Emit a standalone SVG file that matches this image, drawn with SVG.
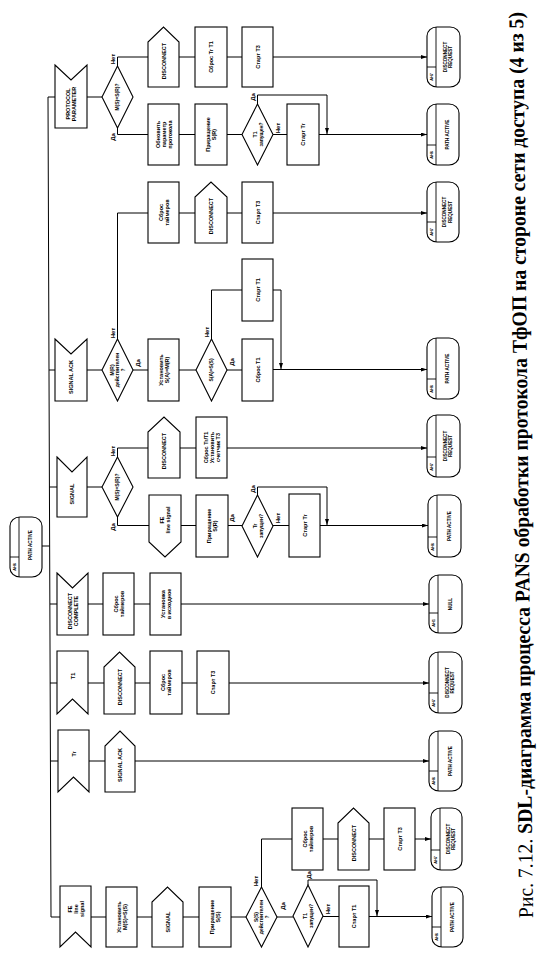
<svg xmlns="http://www.w3.org/2000/svg" width="560" height="961" viewBox="0 0 560 961">
<style>
.sh{fill:#fff;stroke:#000;stroke-width:1.1}
.ln{fill:none;stroke:#000;stroke-width:1}
.ar{fill:none;stroke:#000;stroke-width:1;marker-end:url(#ah)}
.dv{stroke:#000;stroke-width:0.9}
text{font-family:"Liberation Sans",Arial,sans-serif;font-weight:bold;fill:#000;text-anchor:middle}
.t{font-size:5.5px}
.td{font-size:5px}
.ts{font-size:4.6px}
.tn{font-size:3.8px}
.tl{font-size:6px}
.cap{font-family:"Liberation Serif","Times New Roman",serif;font-weight:normal;font-size:21px;text-anchor:start}
.capb{font-weight:bold}
</style>
<defs>
<marker id="ah" markerWidth="6" markerHeight="4" refX="6" refY="2" orient="auto" markerUnits="userSpaceOnUse"><path d="M0,0 L6,2 L0,4 Z" fill="#000"/></marker>
</defs>
<rect width="560" height="961" fill="#fff"/>

<g id="connectors">
<path class="ln" d="M55,97 L48,97 L51,917 L60,917"/>
<path class="ln" d="M42,546 L49.5,546"/>
<path class="ln" d="M87,97 L102,97"/>
<path class="ln" d="M117.5,66 L117.5,57 L148,57"/>
<path class="ln" d="M179,57 L195,57"/>
<path class="ln" d="M227,57 L242,57"/>
<path class="ar" d="M273,57 L427,57"/>
<path class="ln" d="M117.5,128 L117.5,134.5 L148,134.5"/>
<path class="ln" d="M179,134.5 L195,134.5"/>
<path class="ln" d="M227,134.5 L242,134.5"/>
<path class="ar" d="M257.5,104 L257.5,95 L327,95 L327,134"/>
<path class="ln" d="M273,134.5 L287,134.5"/>
<path class="ar" d="M319,134.5 L427,134.5"/>
<path class="ln" d="M49,370 L55,370"/>
<path class="ln" d="M87,370 L102,370"/>
<path class="ln" d="M117.5,339 L117.5,213 L148,213"/>
<path class="ln" d="M179,213 L195,213"/>
<path class="ln" d="M227,213 L242,213"/>
<path class="ar" d="M273,213 L427,213"/>
<path class="ln" d="M133,370 L148,370"/>
<path class="ln" d="M179,370 L196,370"/>
<path class="ln" d="M211.5,339 L211.5,290 L242,290"/>
<path class="ln" d="M227,370 L242,370"/>
<path class="ar" d="M273,290 L281,290 L281,369"/>
<path class="ar" d="M273,369.5 L427,369.5"/>
<path class="ln" d="M49.4,487 L57,487"/>
<path class="ln" d="M87,487 L102,487"/>
<path class="ln" d="M117.5,457 L117.5,448 L148,448"/>
<path class="ln" d="M180,448 L196,448"/>
<path class="ar" d="M227,448 L427,448"/>
<path class="ln" d="M117.5,517 L117.5,525.5 L149,525.5"/>
<path class="ln" d="M181,525.5 L196,525.5"/>
<path class="ln" d="M228,525.5 L242,525.5"/>
<path class="ar" d="M257.5,495 L257.5,487 L327,487 L327,525"/>
<path class="ln" d="M273,525.5 L289,525.5"/>
<path class="ar" d="M320,525.5 L428,525.5"/>
<path class="ln" d="M50,604 L57,604"/>
<path class="ln" d="M88,604 L103,604"/>
<path class="ln" d="M134,604 L150,604"/>
<path class="ar" d="M181,604 L429,604"/>
<path class="ln" d="M50,683 L57,683"/>
<path class="ln" d="M88,683 L104,683"/>
<path class="ln" d="M135,683 L150,683"/>
<path class="ln" d="M182,683 L197,683"/>
<path class="ar" d="M229,683 L429,683"/>
<path class="ln" d="M50.4,761 L58,761"/>
<path class="ln" d="M89,761 L105,761"/>
<path class="ar" d="M135,761 L429,761"/>
<path class="ln" d="M91,917 L106,917"/>
<path class="ln" d="M137,917 L152,917"/>
<path class="ln" d="M183,917 L199,917"/>
<path class="ln" d="M231,917 L246,917"/>
<path class="ln" d="M261.5,887 L261.5,839 L292,839"/>
<path class="ln" d="M323,839 L338,839"/>
<path class="ln" d="M369,839 L384,839"/>
<path class="ar" d="M415,839 L431,839"/>
<path class="ln" d="M277,917 L293,917"/>
<path class="ar" d="M308,885 L308,880 L377,880 L377,916"/>
<path class="ln" d="M323,916.5 L339,916.5"/>
<path class="ar" d="M369,916.5 L432,916.5"/>
</g>

<g id="labels">
<text class="tl" transform="translate(113,59) rotate(-90)"><tspan x="0" y="2">Нет</tspan></text>
<text class="tl" transform="translate(113,137) rotate(-90)"><tspan x="0" y="2">Да</tspan></text>
<text class="tl" transform="translate(253,97) rotate(-90)"><tspan x="0" y="2">Да</tspan></text>
<text class="tl" transform="translate(278,128) rotate(-90)"><tspan x="0" y="2">Нет</tspan></text>
<text class="tl" transform="translate(113,333) rotate(-90)"><tspan x="0" y="2">Нет</tspan></text>
<text class="tl" transform="translate(138,363) rotate(-90)"><tspan x="0" y="2">Да</tspan></text>
<text class="tl" transform="translate(207,332) rotate(-90)"><tspan x="0" y="2">Нет</tspan></text>
<text class="tl" transform="translate(232,362) rotate(-90)"><tspan x="0" y="2">Да</tspan></text>
<text class="tl" transform="translate(113,451) rotate(-90)"><tspan x="0" y="2">Нет</tspan></text>
<text class="tl" transform="translate(113,527) rotate(-90)"><tspan x="0" y="2">Да</tspan></text>
<text class="tl" transform="translate(232,518) rotate(-90)"><tspan x="0" y="2">Да</tspan></text>
<text class="tl" transform="translate(253,489) rotate(-90)"><tspan x="0" y="2">Да</tspan></text>
<text class="tl" transform="translate(278,518) rotate(-90)"><tspan x="0" y="2">Нет</tspan></text>
<text class="tl" transform="translate(256,881) rotate(-90)"><tspan x="0" y="2">Нет</tspan></text>
<text class="tl" transform="translate(283,906) rotate(-90)"><tspan x="0" y="2">Да</tspan></text>
<text class="tl" transform="translate(309,875) rotate(-90)"><tspan x="0" y="2">Да</tspan></text>
<text class="tl" transform="translate(328,909) rotate(-90)"><tspan x="0" y="2">Нет</tspan></text>
</g>

<g id="nodes">
<g id="start">
<rect class="sh" x="10" y="517" width="32" height="60" rx="10" ry="9"/>
<line class="dv" x1="19" y1="517" x2="19" y2="577"/><line class="dv" x1="10" y1="557" x2="19" y2="557"/>
<text class="tn" transform="translate(14.5,567) rotate(-90)"><tspan x="0" y="1.3">AH6</tspan></text>
<text class="ts" transform="translate(30.5,545) rotate(-90)"><tspan x="0" y="1.6">PATH ACTIVE</tspan></text>
</g>

<g id="in_pp">
<path class="sh" d="M55,65 L71,80 L87,65 L87,128 L55,128 Z"/>
<text class="t" transform="translate(71,104) rotate(-90)"><tspan x="0" y="-1">PROTOCOL</tspan><tspan x="0" y="5">PARAMETER</tspan></text>
</g>
<g id="d7a">
<polygon class="sh" points="117.5,66 133,97 117.5,128 102,97"/>
<text class="td" transform="translate(117.5,97) rotate(-90)"><tspan x="0" y="1.8">M(S)=S(R)?</tspan></text>
</g>
<g id="o7disc">
<path class="sh" d="M148,87 L148,42 L163.5,27 L179,42 L179,87 Z"/>
<text class="t" transform="translate(163.5,61) rotate(-90)"><tspan x="0" y="2">DISCONNECT</tspan></text>
</g>
<g id="b7reset">
<rect class="sh" x="195" y="27" width="32" height="60"/>
<text class="t" transform="translate(211,57) rotate(-90)"><tspan x="0" y="2">Сброс Tr T1</tspan></text>
</g>
<g id="b7t3">
<rect class="sh" x="242" y="27" width="31" height="60"/>
<text class="t" transform="translate(257.5,57) rotate(-90)"><tspan x="0" y="2">Старт T3</tspan></text>
</g>
<g id="s7dr">
<rect class="sh" x="427" y="27" width="33" height="60" rx="10" ry="9"/>
<line class="dv" x1="436" y1="27" x2="436" y2="87"/><line class="dv" x1="427" y1="67" x2="436" y2="67"/>
<text class="tn" transform="translate(431.5,77) rotate(-90)"><tspan x="0" y="1.3">AH7</tspan></text>
<text class="ts" transform="translate(448,57) rotate(-90)"><tspan x="0" y="-1.2">DISCONNECT</tspan><tspan x="0" y="4.4">REQUEST</tspan></text>
</g>
<g id="b7upd">
<rect class="sh" x="148" y="104" width="31" height="61"/>
<text class="t" transform="translate(163.5,134.5) rotate(-90)"><tspan x="0" y="-4">Обновить</tspan><tspan x="0" y="2">параметр</tspan><tspan x="0" y="8">протокола</tspan></text>
</g>
<g id="b7inc">
<rect class="sh" x="195" y="104" width="32" height="61"/>
<text class="t" transform="translate(211,134.5) rotate(-90)"><tspan x="0" y="-1">Приращение</tspan><tspan x="0" y="5">S(R)</tspan></text>
</g>
<g id="d7b">
<polygon class="sh" points="257.5,104 273,134.5 257.5,165 242,134.5"/>
<text class="td" transform="translate(257.5,134.5) rotate(-90)"><tspan x="0" y="-1">T1</tspan><tspan x="0" y="5">запущен?</tspan></text>
</g>
<g id="b7tr">
<rect class="sh" x="287" y="104" width="32" height="61"/>
<text class="t" transform="translate(303,134.5) rotate(-90)"><tspan x="0" y="2">Старт Tr</tspan></text>
</g>
<g id="s7pa">
<rect class="sh" x="427" y="104" width="32" height="61" rx="10" ry="9"/>
<line class="dv" x1="436" y1="104" x2="436" y2="165"/><line class="dv" x1="427" y1="145" x2="436" y2="145"/>
<text class="tn" transform="translate(431.5,155) rotate(-90)"><tspan x="0" y="1.3">AH6</tspan></text>
<text class="ts" transform="translate(447.5,134.5) rotate(-90)"><tspan x="0" y="1.6">PATH ACTIVE</tspan></text>
</g>

<g id="in_sack">
<path class="sh" d="M55,339 L71,354 L87,339 L87,401 L55,401 Z"/>
<text class="t" transform="translate(71,377) rotate(-90)"><tspan x="0" y="2">SIGNAL ACK</tspan></text>
</g>
<g id="d6a">
<polygon class="sh" points="117.5,339 133,370 117.5,401 102,370"/>
<text class="td" transform="translate(117.5,370) rotate(-90)"><tspan x="0" y="-3.8">M(R)</tspan><tspan x="0" y="1.8">действителен</tspan><tspan x="0" y="7.4">?</tspan></text>
</g>
<g id="b6reset">
<rect class="sh" x="148" y="182" width="31" height="61"/>
<text class="t" transform="translate(163.5,212.5) rotate(-90)"><tspan x="0" y="-1">Сброс</tspan><tspan x="0" y="5">таймеров</tspan></text>
</g>
<g id="o6disc">
<path class="sh" d="M195,243 L195,197 L211,182 L227,197 L227,243 Z"/>
<text class="t" transform="translate(211,216) rotate(-90)"><tspan x="0" y="2">DISCONNECT</tspan></text>
</g>
<g id="b6t3">
<rect class="sh" x="242" y="182" width="31" height="61"/>
<text class="t" transform="translate(257.5,212.5) rotate(-90)"><tspan x="0" y="2">Старт T3</tspan></text>
</g>
<g id="s6dr">
<rect class="sh" x="427" y="182" width="32" height="60" rx="10" ry="9"/>
<line class="dv" x1="436" y1="182" x2="436" y2="242"/><line class="dv" x1="427" y1="222" x2="436" y2="222"/>
<text class="tn" transform="translate(431.5,232) rotate(-90)"><tspan x="0" y="1.3">AH7</tspan></text>
<text class="ts" transform="translate(447.5,212) rotate(-90)"><tspan x="0" y="-1.2">DISCONNECT</tspan><tspan x="0" y="4.4">REQUEST</tspan></text>
</g>
<g id="b6set">
<rect class="sh" x="148" y="339" width="31" height="62"/>
<text class="t" transform="translate(163.5,370) rotate(-90)"><tspan x="0" y="-1">Установить</tspan><tspan x="0" y="5">S(A)=M(R)</tspan></text>
</g>
<g id="d6b">
<polygon class="sh" points="211.5,339 227,370 211.5,401 196,370"/>
<text class="td" transform="translate(211.5,370) rotate(-90)"><tspan x="0" y="1.8">S(A)=S(S)</tspan></text>
</g>
<g id="b6t1start">
<rect class="sh" x="242" y="259" width="31" height="62"/>
<text class="t" transform="translate(257.5,290) rotate(-90)"><tspan x="0" y="2">Старт T1</tspan></text>
</g>
<g id="b6t1reset">
<rect class="sh" x="242" y="339" width="31" height="62"/>
<text class="t" transform="translate(257.5,370) rotate(-90)"><tspan x="0" y="2">Сброс T1</tspan></text>
</g>
<g id="s6pa">
<rect class="sh" x="427" y="338" width="32" height="61" rx="10" ry="9"/>
<line class="dv" x1="436" y1="338" x2="436" y2="399"/><line class="dv" x1="427" y1="379" x2="436" y2="379"/>
<text class="tn" transform="translate(431.5,389) rotate(-90)"><tspan x="0" y="1.3">AH6</tspan></text>
<text class="ts" transform="translate(447.5,368.5) rotate(-90)"><tspan x="0" y="1.6">PATH ACTIVE</tspan></text>
</g>

<g id="in_sig">
<path class="sh" d="M57,457 L72,472 L87,457 L87,517 L57,517 Z"/>
<text class="t" transform="translate(72,494) rotate(-90)"><tspan x="0" y="2">SIGNAL</tspan></text>
</g>
<g id="d5a">
<polygon class="sh" points="117.5,457 133,487 117.5,517 102,487"/>
<text class="td" transform="translate(117.5,487) rotate(-90)"><tspan x="0" y="1.8">M(S)=S(R)?</tspan></text>
</g>
<g id="o5disc">
<path class="sh" d="M148,478 L148,432 L164,417 L180,432 L180,478 Z"/>
<text class="t" transform="translate(164,451) rotate(-90)"><tspan x="0" y="2">DISCONNECT</tspan></text>
</g>
<g id="b5reset">
<rect class="sh" x="196" y="417" width="31" height="61"/>
<text class="t" transform="translate(211.5,447.5) rotate(-90)"><tspan x="0" y="-4">Сброс Tr/T1</tspan><tspan x="0" y="2">Установить</tspan><tspan x="0" y="8">счетчик T3</tspan></text>
</g>
<g id="s5dr">
<rect class="sh" x="427" y="415" width="33" height="62" rx="10" ry="9"/>
<line class="dv" x1="436" y1="415" x2="436" y2="477"/><line class="dv" x1="427" y1="457" x2="436" y2="457"/>
<text class="tn" transform="translate(431.5,467) rotate(-90)"><tspan x="0" y="1.3">AH7</tspan></text>
<text class="ts" transform="translate(448,446) rotate(-90)"><tspan x="0" y="-1.2">DISCONNECT</tspan><tspan x="0" y="4.4">REQUEST</tspan></text>
</g>
<g id="o5fe">
<path class="sh" d="M149,495 L181,495 L181,542 L165,557 L149,542 Z"/>
<text class="t" transform="translate(165,520) rotate(-90)"><tspan x="0" y="-1">FE</tspan><tspan x="0" y="5">line signal</tspan></text>
</g>
<g id="b5inc">
<rect class="sh" x="196" y="495" width="32" height="62"/>
<text class="t" transform="translate(212,526) rotate(-90)"><tspan x="0" y="-1">Приращение</tspan><tspan x="0" y="5">S(R)</tspan></text>
</g>
<g id="d5b">
<polygon class="sh" points="257.5,495 273,526 257.5,557 242,526"/>
<text class="td" transform="translate(257.5,526) rotate(-90)"><tspan x="0" y="-1">Tr</tspan><tspan x="0" y="5">запущен?</tspan></text>
</g>
<g id="b5tr">
<rect class="sh" x="289" y="494" width="31" height="63"/>
<text class="t" transform="translate(304.5,525.5) rotate(-90)"><tspan x="0" y="2">Старт Tr</tspan></text>
</g>
<g id="s5pa">
<rect class="sh" x="428" y="495" width="33" height="62" rx="10" ry="9"/>
<line class="dv" x1="437" y1="495" x2="437" y2="557"/><line class="dv" x1="428" y1="537" x2="437" y2="537"/>
<text class="tn" transform="translate(432.5,547) rotate(-90)"><tspan x="0" y="1.3">AH6</tspan></text>
<text class="ts" transform="translate(449,526) rotate(-90)"><tspan x="0" y="1.6">PATH ACTIVE</tspan></text>
</g>

<g id="in_dc">
<path class="sh" d="M57,573 L72.5,588 L88,573 L88,635 L57,635 Z"/>
<text class="t" transform="translate(72.5,611) rotate(-90)"><tspan x="0" y="-1">DISCONNECT</tspan><tspan x="0" y="5">COMPLETE</tspan></text>
</g>
<g id="b4reset">
<rect class="sh" x="103" y="573" width="31" height="62"/>
<text class="t" transform="translate(118.5,604) rotate(-90)"><tspan x="0" y="-1">Сброс</tspan><tspan x="0" y="5">таймеров</tspan></text>
</g>
<g id="b4init">
<rect class="sh" x="150" y="573" width="31" height="62"/>
<text class="t" transform="translate(165.5,604) rotate(-90)"><tspan x="0" y="-1">Установка</tspan><tspan x="0" y="5">в исходное</tspan></text>
</g>
<g id="s4null">
<rect class="sh" x="429" y="575" width="33" height="58" rx="10" ry="9"/>
<line class="dv" x1="438" y1="575" x2="438" y2="633"/><line class="dv" x1="429" y1="613" x2="438" y2="613"/>
<text class="tn" transform="translate(433.5,623) rotate(-90)"><tspan x="0" y="1.3">AH1</tspan></text>
<text class="ts" transform="translate(450,604) rotate(-90)"><tspan x="0" y="1.6">NULL</tspan></text>
</g>

<g id="in_t1">
<path class="sh" d="M57,651 L88,651 L88,714 L72.5,699 L57,714 Z"/>
<text class="t" transform="translate(72.5,676) rotate(-90)"><tspan x="0" y="2">T1</tspan></text>
</g>
<g id="o3disc">
<path class="sh" d="M104,714 L104,667 L119.5,652 L135,667 L135,714 Z"/>
<text class="t" transform="translate(119.5,687) rotate(-90)"><tspan x="0" y="2">DISCONNECT</tspan></text>
</g>
<g id="b3reset">
<rect class="sh" x="150" y="651" width="32" height="63"/>
<text class="t" transform="translate(166,682.5) rotate(-90)"><tspan x="0" y="-1">Сброс</tspan><tspan x="0" y="5">таймеров</tspan></text>
</g>
<g id="b3t3">
<rect class="sh" x="197" y="651" width="32" height="63"/>
<text class="t" transform="translate(213,682.5) rotate(-90)"><tspan x="0" y="2">Старт T3</tspan></text>
</g>
<g id="s3dr">
<rect class="sh" x="429" y="652" width="33" height="61" rx="10" ry="9"/>
<line class="dv" x1="438" y1="652" x2="438" y2="713"/><line class="dv" x1="429" y1="693" x2="438" y2="693"/>
<text class="tn" transform="translate(433.5,703) rotate(-90)"><tspan x="0" y="1.3">AH7</tspan></text>
<text class="ts" transform="translate(450,682.5) rotate(-90)"><tspan x="0" y="-1.2">DISCONNECT</tspan><tspan x="0" y="4.4">REQUEST</tspan></text>
</g>

<g id="in_tr">
<path class="sh" d="M58,730 L89,730 L89,792 L73.5,777 L58,792 Z"/>
<text class="t" transform="translate(73.5,754) rotate(-90)"><tspan x="0" y="2">Tr</tspan></text>
</g>
<g id="o2sack">
<path class="sh" d="M105,792 L105,746 L120,731 L135,746 L135,792 Z"/>
<text class="t" transform="translate(120,765) rotate(-90)"><tspan x="0" y="2">SIGNAL ACK</tspan></text>
</g>
<g id="s2pa">
<rect class="sh" x="429" y="731" width="33" height="60" rx="10" ry="9"/>
<line class="dv" x1="438" y1="731" x2="438" y2="791"/><line class="dv" x1="429" y1="771" x2="438" y2="771"/>
<text class="tn" transform="translate(433.5,781) rotate(-90)"><tspan x="0" y="1.3">AH6</tspan></text>
<text class="ts" transform="translate(450,761) rotate(-90)"><tspan x="0" y="1.6">PATH ACTIVE</tspan></text>
</g>

<g id="in_fe">
<path class="sh" d="M60,886 L91,886 L91,947 L75.5,932 L60,947 Z"/>
<text class="t" transform="translate(75.5,909) rotate(-90)"><tspan x="0" y="-4">FE</tspan><tspan x="0" y="2">line</tspan><tspan x="0" y="8">signal</tspan></text>
</g>
<g id="b1set">
<rect class="sh" x="106" y="887" width="31" height="60"/>
<text class="t" transform="translate(121.5,917) rotate(-90)"><tspan x="0" y="-1">Установить</tspan><tspan x="0" y="5">M(S)=S(S)</tspan></text>
</g>
<g id="o1sig">
<path class="sh" d="M152,947 L152,902 L167.5,887 L183,902 L183,947 Z"/>
<text class="t" transform="translate(167.5,922) rotate(-90)"><tspan x="0" y="2">SIGNAL</tspan></text>
</g>
<g id="b1inc">
<rect class="sh" x="199" y="887" width="32" height="60"/>
<text class="t" transform="translate(215,917) rotate(-90)"><tspan x="0" y="-1">Приращение</tspan><tspan x="0" y="5">S(S)</tspan></text>
</g>
<g id="d1a">
<polygon class="sh" points="261.5,887 277,917 261.5,947 246,917"/>
<text class="td" transform="translate(261.5,917) rotate(-90)"><tspan x="0" y="-3.8">S(S)</tspan><tspan x="0" y="1.8">действителен</tspan><tspan x="0" y="7.4">?</tspan></text>
</g>
<g id="b1reset">
<rect class="sh" x="292" y="808" width="31" height="62"/>
<text class="t" transform="translate(307.5,839) rotate(-90)"><tspan x="0" y="-1">Сброс</tspan><tspan x="0" y="5">таймеров</tspan></text>
</g>
<g id="o1disc">
<path class="sh" d="M338,870 L338,823 L353.5,808 L369,823 L369,870 Z"/>
<text class="t" transform="translate(353.5,843) rotate(-90)"><tspan x="0" y="2">DISCONNECT</tspan></text>
</g>
<g id="b1t3">
<rect class="sh" x="384" y="808" width="31" height="62"/>
<text class="t" transform="translate(399.5,839) rotate(-90)"><tspan x="0" y="2">Старт T3</tspan></text>
</g>
<g id="s1dr">
<rect class="sh" x="431" y="808" width="31" height="62" rx="10" ry="9"/>
<line class="dv" x1="440" y1="808" x2="440" y2="870"/><line class="dv" x1="431" y1="850" x2="440" y2="850"/>
<text class="tn" transform="translate(435.5,860) rotate(-90)"><tspan x="0" y="1.3">AH7</tspan></text>
<text class="ts" transform="translate(451,839) rotate(-90)"><tspan x="0" y="-1.2">DISCONNECT</tspan><tspan x="0" y="4.4">REQUEST</tspan></text>
</g>
<g id="d1b">
<polygon class="sh" points="308,885 323,916 308,947 293,916"/>
<text class="td" transform="translate(308,916) rotate(-90)"><tspan x="0" y="-1">T1</tspan><tspan x="0" y="5">запущен?</tspan></text>
</g>
<g id="b1t1">
<rect class="sh" x="339" y="886" width="30" height="61"/>
<text class="t" transform="translate(354,916.5) rotate(-90)"><tspan x="0" y="2">Старт T1</tspan></text>
</g>
<g id="s1pa">
<rect class="sh" x="432" y="887" width="31" height="60" rx="10" ry="9"/>
<line class="dv" x1="441" y1="887" x2="441" y2="947"/><line class="dv" x1="432" y1="927" x2="441" y2="927"/>
<text class="tn" transform="translate(436.5,937) rotate(-90)"><tspan x="0" y="1.3">AH6</tspan></text>
<text class="ts" transform="translate(452,917) rotate(-90)"><tspan x="0" y="1.6">PATH ACTIVE</tspan></text>
</g>
</g>

<g id="caption">
<text class="cap" transform="translate(533,918) rotate(-90.63)" textLength="906" lengthAdjust="spacingAndGlyphs">Рис. 7.12. <tspan class="capb">SDL-диаграмма процесса PANS обработки протокола ТфОП на стороне сети доступа (4 из 5)</tspan></text>
</g>
</svg>
